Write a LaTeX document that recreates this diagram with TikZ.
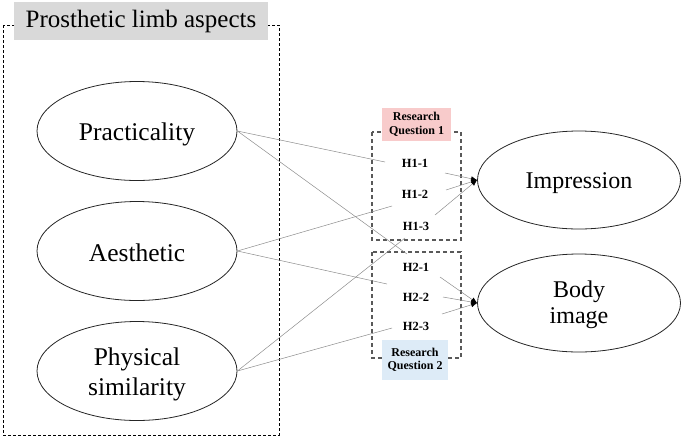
\documentclass[tikz,border=0pt]{standalone}
\usepackage{fontspec}
\setmainfont{Liberation Serif}
\usetikzlibrary{shapes.geometric,arrows.meta}
\definecolor{rqpink}{HTML}{F8CBCB}
\definecolor{rqblue}{HTML}{DDEBF7}
\newcommand{\lowtext}[2]{\raisebox{-#1}[\height][\depth]{#2}}
\tikzset{
  oval/.style={draw=black!85, line width=0.8pt, ellipse, minimum width=200pt, minimum height=99pt, inner sep=0pt, align=center, font=\fontsize{25.5}{30}\selectfont},
  hyp/.style={font=\bfseries\fontsize{12.5}{13}\selectfont, inner sep=0pt},
  rq/.style={font=\bfseries\fontsize{12}{13.5}\selectfont, align=center, inner sep=0pt},
  link/.style={draw=black!45, line width=0.5pt},
  arr/.style={draw=black!45, line width=0.5pt, -{Latex[length=6pt,width=5pt,fill=black,color=black]}},
  outerbox/.style={draw=black, line width=0.7pt, dash pattern=on 3pt off 2pt},
  hbox/.style={draw=black!65, line width=1.1pt, dash pattern=on 4pt off 3pt}
}
\begin{document}
\begin{tikzpicture}[x=1pt,y=-1pt]
\useasboundingbox (0,0) rectangle (682,440);
% left group box
\draw[outerbox] (3,25) rectangle (279,435);
\node[fill=black!15, minimum width=254pt, minimum height=38pt, inner sep=0pt, font=\fontsize{25}{28}\selectfont] (title) at (141,21) {Prosthetic limb aspects};
% hypothesis boxes
\draw[hbox] (372,132) rectangle (461,240);
\draw[hbox] (372,252) rectangle (461,358);
\node[fill=rqpink, minimum width=69pt, minimum height=33pt, rq] (rq1) at (416.5,124.5) {Research\\Question 1};
\node[fill=rqblue, minimum width=66pt, minimum height=40pt, rq] (rq2) at (415,360) {Research\\Question 2};
% ellipses
\node[oval] (prac) at (137,131) {\lowtext{3pt}{Practicality}};
\node[oval] (aest) at (137,251) {\lowtext{2pt}{Aesthetic}};
\node[oval] (phys) at (137,371) {\lowtext{3pt}{\begin{tabular}{@{}c@{}}Physical\\similarity\end{tabular}}};
\node[oval, minimum width=203pt, minimum height=98pt, font=\fontsize{24}{27}\selectfont] (impr) at (579,180) {\lowtext{3pt}{Impression}};
\node[oval, minimum width=203pt, minimum height=98pt, font=\fontsize{24}{27}\selectfont] (body) at (579,303) {\lowtext{2pt}{\begin{tabular}{@{}c@{}}Body\\[-1pt]image\end{tabular}}};
% hypothesis labels
\node[hyp] (h11) at (415,163) {H1-1};
\node[hyp] (h12) at (415,194) {H1-2};
\node[hyp] (h13) at (416,226) {H1-3};
\node[hyp] (h21) at (416,267) {H2-1};
\node[hyp] (h22) at (416,297) {H2-2};
\node[hyp] (h23) at (416,326) {H2-3};
% connector end points
\coordinate (p1) at (385,162);
\coordinate (p2) at (407,254);
\coordinate (a1) at (392,206);
\coordinate (a2) at (387,284);
\coordinate (s1) at (405,238);
\coordinate (s2) at (392,328);
\coordinate (o11) at (445,173);
\coordinate (o12) at (446,190);
\coordinate (o13) at (435,215);
\coordinate (o21) at (440,277);
\coordinate (o22) at (443,297);
\coordinate (o23) at (442,314);
\coordinate (ti) at (impr.west);
\coordinate (tb) at (body.west);
% connectors
\draw[link] (prac.east) -- (p1);
\draw[link] (prac.east) -- (p2);
\draw[link] (aest.east) -- (a1);
\draw[link] (aest.east) -- (a2);
\draw[link] (phys.east) -- (s1);
\draw[link] (phys.east) -- (s2);
\draw[arr] (o11) -- (ti);
\draw[arr] (o12) -- (ti);
\draw[arr] (o13) -- (ti);
\draw[arr] (o21) -- (tb);
\draw[arr] (o22) -- (tb);
\draw[arr] (o23) -- (tb);
\end{tikzpicture}
\end{document}
